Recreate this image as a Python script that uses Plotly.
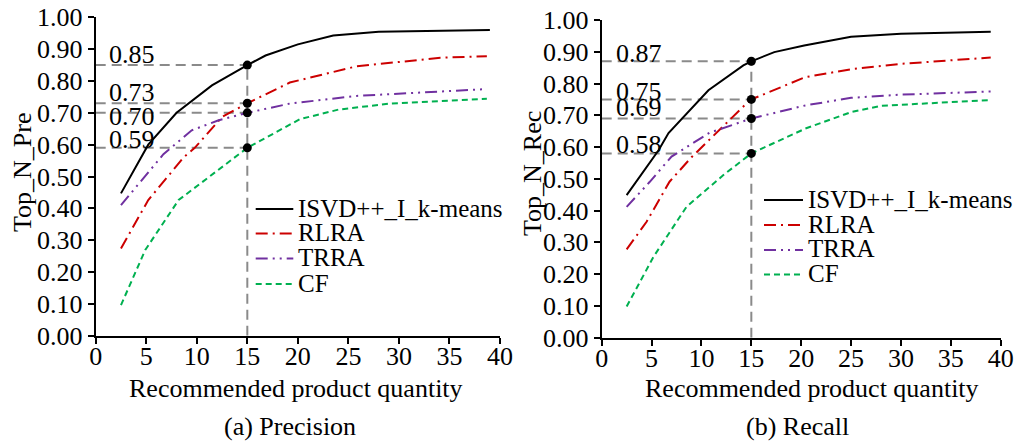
import plotly.graph_objects as go

W, H = 1031, 443
FONT = "Liberation Serif"

# ---- Precision (a) ----
pre_isvd_x = [2.5, 4.2, 5.2, 8.0, 11.5, 15, 16.8, 20, 23.5, 28, 39]
pre_isvd_y = [0.447, 0.543, 0.60, 0.70, 0.786, 0.85, 0.88, 0.915, 0.943, 0.955, 0.96]
pre_rlra_x = [2.5, 5.2, 8.7, 9.8, 12.5, 15, 19.2, 25.8, 34.1, 38.7]
pre_rlra_y = [0.274, 0.426, 0.56, 0.59, 0.687, 0.73, 0.795, 0.846, 0.873, 0.878]
pre_trra_x = [2.5, 5.2, 6.7, 9.5, 12.1, 15, 19.2, 25.8, 38.4]
pre_trra_y = [0.41, 0.515, 0.57, 0.645, 0.676, 0.70, 0.729, 0.753, 0.774]
pre_cf_x = [2.5, 4.9, 8.2, 11.5, 15, 20.2, 24, 29.1, 38.7]
pre_cf_y = [0.096, 0.269, 0.426, 0.505, 0.59, 0.68, 0.71, 0.729, 0.744]

# ---- Recall (b) ----
rec_isvd_x = [2.5, 5.7, 6.7, 10.7, 14.2, 15, 17.3, 20.3, 25, 30, 39]
rec_isvd_y = [0.449, 0.59, 0.644, 0.779, 0.857, 0.87, 0.899, 0.92, 0.947, 0.957, 0.963]
rec_rlra_x = [2.5, 4.5, 6.8, 9.0, 14.5, 15, 20.4, 25, 30, 35, 39]
rec_rlra_y = [0.278, 0.365, 0.491, 0.568, 0.737, 0.75, 0.82, 0.845, 0.862, 0.873, 0.882]
rec_trra_x = [2.5, 4.8, 7.0, 10.8, 15, 20.4, 25, 30, 39]
rec_trra_y = [0.412, 0.49, 0.57, 0.645, 0.69, 0.731, 0.755, 0.765, 0.775]
rec_cf_x = [2.5, 5.2, 8.5, 12.2, 15, 20.4, 25, 28, 39]
rec_cf_y = [0.098, 0.255, 0.412, 0.512, 0.58, 0.658, 0.71, 0.73, 0.748]

# highlighted values at N = 15
mark_n = 15
pre_marks = [0.85, 0.73, 0.70, 0.59]
rec_marks = [0.87, 0.75, 0.69, 0.58]
pre_label_shift = [11, 11, -4, 8]
rec_label_shift = [8, 8, 11, 9]

series_names = ["ISVD++_I_k-means", "RLRA", "TRRA", "CF"]
series_colors = ["#000000", "#CC0000", "#7030A0", "#00B050"]
series_dash = ["solid", "12px,5px,2px,5px", "12px,5px,2px,5px,2px,5px", "6px,4px"]

x_ticks = list(range(0, 41, 5))
y_ticks = [i / 10 for i in range(11)]


def px_x(p):
    return p / W


def px_y(p):
    return 1 - p / H


fig = go.Figure()

pre_sets = [(pre_isvd_x, pre_isvd_y), (pre_rlra_x, pre_rlra_y),
            (pre_trra_x, pre_trra_y), (pre_cf_x, pre_cf_y)]
rec_sets = [(rec_isvd_x, rec_isvd_y), (rec_rlra_x, rec_rlra_y),
            (rec_trra_x, rec_trra_y), (rec_cf_x, rec_cf_y)]

GUIDE = dict(color="#8a8a8a", width=2, dash="10px,6px")

for axn, sets, marks in (("", pre_sets, pre_marks), ("2", rec_sets, rec_marks)):
    xa, ya = "x" + axn, "y" + axn
    # guide lines to the highlighted points
    fig.add_trace(go.Scatter(x=[mark_n, mark_n], y=[0, max(marks)], xaxis=xa, yaxis=ya,
                             mode="lines", line=GUIDE, showlegend=False, hoverinfo="skip"))
    for v in marks:
        fig.add_trace(go.Scatter(x=[0, mark_n], y=[v, v], xaxis=xa, yaxis=ya,
                                 mode="lines", line=GUIDE, showlegend=False, hoverinfo="skip"))
    for (sx, sy), name, col, dash in zip(sets, series_names, series_colors, series_dash):
        fig.add_trace(go.Scatter(x=sx, y=sy, xaxis=xa, yaxis=ya, mode="lines", name=name,
                                 line=dict(color=col, width=2, dash=dash), showlegend=False))
    fig.add_trace(go.Scatter(x=[mark_n] * len(marks), y=marks, xaxis=xa, yaxis=ya,
                             mode="markers", marker=dict(color="black", size=9),
                             showlegend=False, cliponaxis=False))

axis_common = dict(showline=True, linecolor="black", linewidth=2, ticks="outside",
                   ticklen=6, tickwidth=2, tickcolor="black", showgrid=False, zeroline=False,
                   automargin=False,
                   tickfont=dict(family=FONT, size=26, color="black"))
x_extra = dict(ticklabelstandoff=-10)

fig.update_layout(
    width=W, height=H,
    margin=dict(l=0, r=0, t=0, b=0, autoexpand=False),
    paper_bgcolor="white", plot_bgcolor="white",
    showlegend=False,
    xaxis=dict(domain=[px_x(95.7), px_x(500)], range=[0, 40], tickvals=x_ticks, anchor="y",
               **axis_common, **x_extra),
    yaxis=dict(domain=[px_y(335.7), px_y(17.3)], range=[0, 1], tickvals=y_ticks, tickformat=".2f",
               anchor="x", **axis_common),
    xaxis2=dict(domain=[px_x(601.7), px_x(1000.7)], range=[0, 40], tickvals=x_ticks, anchor="y2",
                **axis_common, **x_extra),
    yaxis2=dict(domain=[px_y(337.7), px_y(20)], range=[0, 1], tickvals=y_ticks, tickformat=".2f",
                anchor="x2", **axis_common),
)

annotations = []
tfont = dict(family=FONT, size=26, color="black")

# value labels
for axn, marks, shifts, lx in (("", pre_marks, pre_label_shift, 1.1),
                               ("2", rec_marks, rec_label_shift, 1.2)):
    for v, s in zip(marks, shifts):
        annotations.append(dict(x=lx, y=v, xref="x" + axn, yref="y" + axn, text=f"{v:.2f}",
                                showarrow=False, xanchor="left", yanchor="middle", yshift=s,
                                font=tfont))

# axis titles and captions
for cx, ytitle, ycx, ycy, cap, capx in ((296, "Top_N_Pre", 22, 172, "(a) Precision", 290),
                                         (812, "Top_N_Rec", 533, 174, "(b) Recall", 797)):
    annotations.append(dict(x=px_x(cx), y=px_y(388), xref="paper", yref="paper",
                            text="Recommended product quantity", showarrow=False,
                            xanchor="center", yanchor="middle", font=tfont))
    annotations.append(dict(x=px_x(capx), y=px_y(426), xref="paper", yref="paper",
                            text=cap, showarrow=False, xanchor="center", yanchor="middle", font=tfont))
    annotations.append(dict(x=px_x(ycx), y=px_y(ycy), xref="paper", yref="paper",
                            text=ytitle, showarrow=False, textangle=-90,
                            xanchor="center", yanchor="middle", font=tfont))

# legends
shapes = []
for lx0, lx1, tx, rows in ((255.7, 293.3, 296, [209, 233.5, 258.5, 284]),
                           (764, 803, 806, [200, 225, 250, 274.5])):
    for ry, name, col, dash in zip(rows, series_names, series_colors, series_dash):
        shapes.append(dict(type="line", xref="paper", yref="paper",
                           x0=px_x(lx0), x1=px_x(lx1), y0=px_y(ry), y1=px_y(ry),
                           line=dict(color=col, width=2, dash=dash)))
        annotations.append(dict(x=px_x(tx), y=px_y(ry - 1), xref="paper", yref="paper",
                                text=name, showarrow=False, xanchor="left", yanchor="middle",
                                font=dict(family=FONT, size=25, color="black")))

fig.update_layout(annotations=annotations, shapes=shapes)
fig.write_html("out.html")
